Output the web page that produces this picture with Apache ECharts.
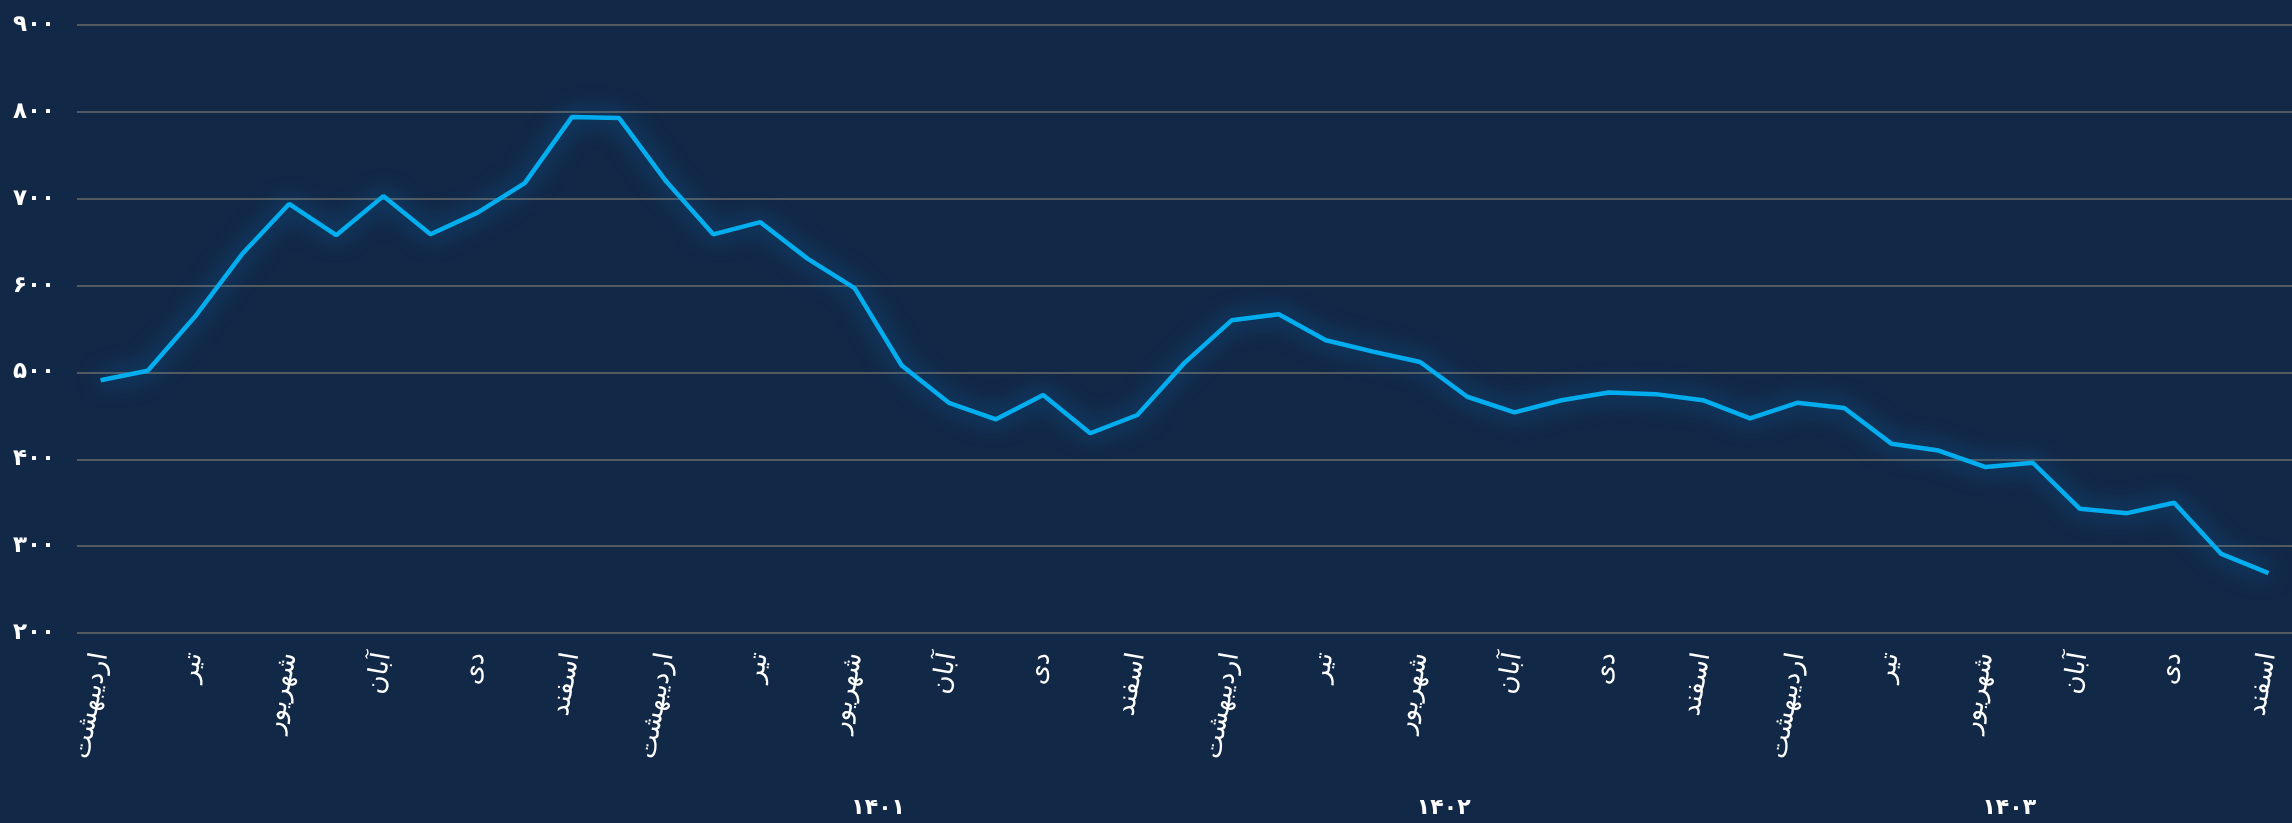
<!DOCTYPE html>
<html>
<head>
<meta charset="utf-8">
<script src="https://cdn.jsdelivr.net/npm/echarts@6/dist/echarts.min.js"></script>
<style>
  html, body { margin: 0; padding: 0; background: #122847; }
  #chart { width: 2292px; height: 823px; }
</style>
</head>
<body>
<div id="chart"></div>
<script>
// ماه‌ها و سال‌ها
const monthNames = ["فروردین", "اردیبهشت", "خرداد", "تیر", "مرداد", "شهریور", "مهر", "آبان", "آذر", "دی", "بهمن", "اسفند"];
const years = [1400, 1401, 1402, 1403];
const startMonth = 1; // اردیبهشت ۱۴۰۰
const yearLabels = ["۱۴۰۱", "۱۴۰۲", "۱۴۰۳"];

// مقدار ماهانه (از اردیبهشت ۱۴۰۰ تا اسفند ۱۴۰۳)
const values = [
  491, 502, 564, 636, 694, 658, 703, 659, 684, 718, 794, 793,
  720, 659, 673, 631, 597, 508, 465, 446, 474, 430, 451, 511,
  560, 567, 537, 524, 512, 472, 454, 468, 477, 475, 468, 447,
  465, 459, 418, 410, 391, 396, 343, 338, 350, 291, 269
];

const yTicks = { min: 200, max: 900, step: 100 };

const toFa = (s) => String(s).replace(/\d/g, (d) => "۰۱۲۳۴۵۶۷۸۹"[d]);

const categories = [];
const catYear = [];
years.forEach((y, yi) => {
  monthNames.forEach((m, mi) => {
    if (yi === 0 && mi < startMonth) return;
    categories.push(m);
    catYear.push(y);
  });
});

// مرکز هر سال روی محور
const yearCenters = yearLabels.map((lbl, i) => {
  const y = years[i + 1];
  return (catYear.indexOf(y) + catYear.lastIndexOf(y)) / 2;
});

const FONT = "DejaVu Sans";
const chart = echarts.init(document.getElementById("chart"));
chart.setOption({
  backgroundColor: "#122847",
  animation: false,
  grid: { left: 77, right: -8, top: 25, bottom: 190 },
  xAxis: [{
    type: "category",
    data: categories,
    boundaryGap: true,
    axisLine: { show: false },
    axisTick: { show: false },
    axisLabel: {
      interval: 1,
      rotate: 80,
      margin: 20,
      color: "#ffffff",
      fontFamily: FONT,
      fontSize: 26
    }
  }, {
    type: "value",
    min: -0.5,
    max: categories.length - 0.5,
    position: "bottom",
    offset: 156,
    axisLine: { show: false },
    axisTick: { show: false },
    splitLine: { show: false },
    axisLabel: {
      customValues: yearCenters,
      margin: 8,
      color: "#ffffff",
      fontFamily: FONT,
      fontWeight: "bold",
      fontSize: 22,
      formatter: (v) => yearLabels[yearCenters.indexOf(v)] ?? ""
    }
  }],
  yAxis: {
    type: "value",
    min: yTicks.min,
    max: yTicks.max,
    interval: yTicks.step,
    axisLine: { show: false },
    axisTick: { show: false },
    splitLine: { lineStyle: { color: "#555a5f", width: 2 } },
    axisLabel: {
      margin: 22,
      color: "#ffffff",
      fontFamily: FONT,
      fontWeight: "bold",
      fontSize: 23,
      formatter: (v) => toFa(v)
    }
  },
  series: [{
    type: "line",
    data: values,
    symbol: "none",
    lineStyle: {
      color: "#00aeef",
      width: 4.5,
      shadowColor: "rgba(0, 150, 240, 0.65)",
      shadowBlur: 24
    }
  }]
});
</script>
</body>
</html>
